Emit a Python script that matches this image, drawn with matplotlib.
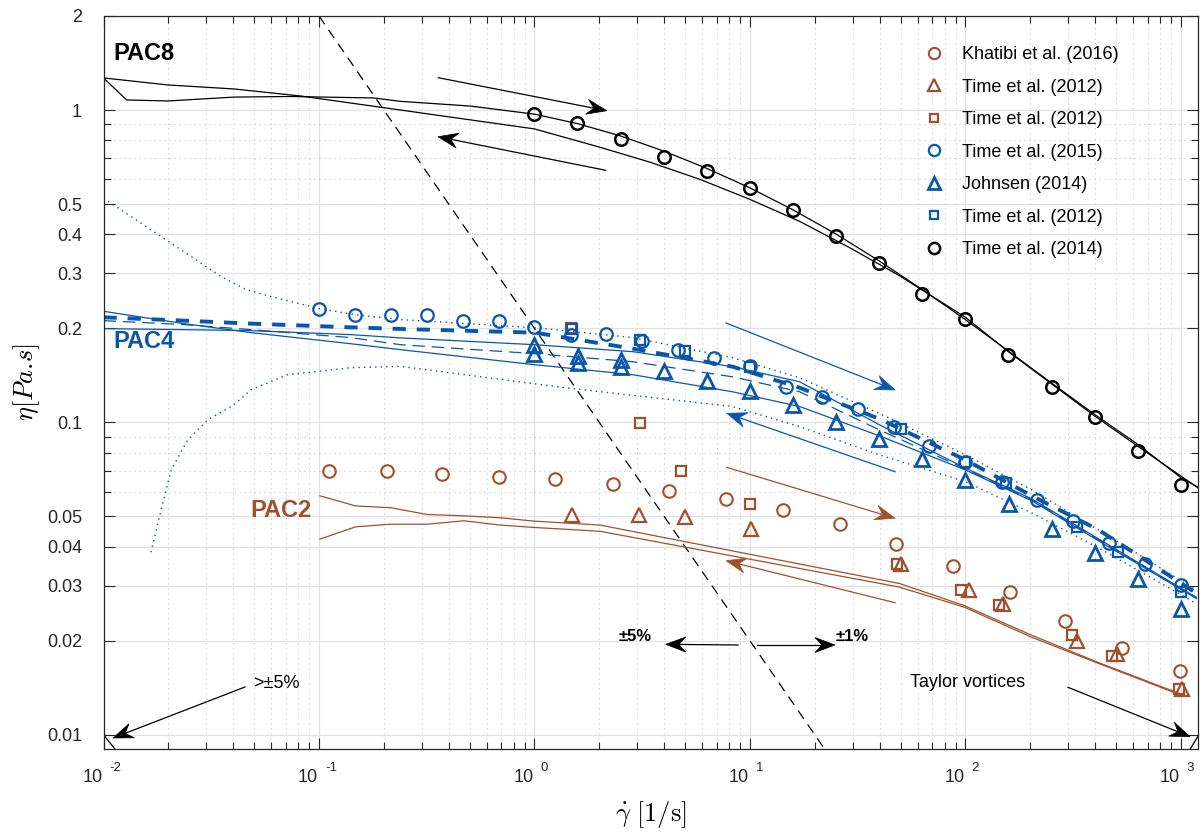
import numpy as np
import matplotlib
matplotlib.use('Agg')
import matplotlib.pyplot as plt
from matplotlib.patches import Polygon
from matplotlib.transforms import IdentityTransform
from matplotlib.ticker import FixedLocator

plt.rcParams['font.family'] = ['Liberation Sans', 'DejaVu Sans']
plt.rcParams['mathtext.fontset'] = 'cm'

BROWN = '#a0502d'
BLUE = '#0a56a8'
INK = '#262626'

# ---- PAC8 (black) ----
pac8_up_x = [0.01, 0.0199, 0.0403, 0.0822, 0.239, 1.0, 2.0, 3.43, 5.85, 9.97, 17, 28.9, 49.3,
             100, 158, 251, 398, 631, 1200]
pac8_up_y = [1.267, 1.203, 1.168, 1.109, 1.0, 0.87, 0.761, 0.681, 0.60, 0.518, 0.44, 0.363,
             0.295, 0.217, 0.1685, 0.1328, 0.1048, 0.0838, 0.0617]
pac8_down_x = [0.01, 0.0128, 0.0199, 0.0403, 0.074, 0.179, 0.239, 0.5, 1.0, 1.58, 2.51, 3.98,
               6.31, 10, 15.8, 25.1, 39.8, 63.1, 100, 158, 251, 398, 631, 1000, 1200]
pac8_down_y = [1.267, 1.077, 1.069, 1.10, 1.105, 1.093, 1.066, 1.03, 0.97, 0.905, 0.826, 0.739,
               0.650, 0.5634, 0.4795, 0.4007, 0.3287, 0.266, 0.2132, 0.1693, 0.1336, 0.106,
               0.085, 0.0665, 0.062]
time14_x = [1, 1.58, 2.51, 3.98, 6.31, 10, 15.8, 25.1, 39.8, 63.1, 100, 158, 251, 398, 631, 1000]
time14_y = [0.969, 0.91, 0.805, 0.708, 0.637, 0.563, 0.478, 0.394, 0.323, 0.2585, 0.214, 0.164,
            0.130, 0.104, 0.0807, 0.0631]

# ---- PAC4 (blue) ----
pac4_x = [0.01, 0.0236, 0.0483, 0.14, 0.239, 1.0, 2.86, 8.3, 17, 39.9, 100, 204, 416, 1180]
pac4_fit_y = [0.217, 0.2117, 0.2071, 0.2015, 0.1991, 0.1938, 0.1722, 0.1508, 0.1291, 0.1026,
              0.0758, 0.0581, 0.0452, 0.0284]
pac4_down_y = [0.1995, 0.1981, 0.1966, 0.191, 0.1864, 0.1773, 0.1684, 0.1508, 0.1349, 0.0982,
               0.0714, 0.0568, 0.0423, 0.0275]
pac4_mid_y = [0.2117, 0.2056, 0.1981, 0.1868, 0.1773, 0.166, 0.1564, 0.1399, 0.1253, 0.0946,
              0.0709, 0.0564, 0.042, 0.0275]
pac4_up_y = [0.2268, 0.2071, 0.1938, 0.1786, 0.1709, 0.153, 0.1421, 0.1253, 0.1124, 0.0905,
             0.0704, 0.056, 0.0417, 0.0273]
pac4_hi_x = [0.01, 0.0351, 0.0458, 0.0598, 0.1, 0.146, 0.239, 1.0, 2.86, 8.3, 17, 41.2, 100,
             204, 591, 1180]
pac4_hi_y = [0.522, 0.2932, 0.2663, 0.2529, 0.2314, 0.2214, 0.2133, 0.201, 0.1868, 0.1611,
             0.1389, 0.1057, 0.0787, 0.0607, 0.039, 0.029]
pac4_lo_x = [0.0166, 0.0185, 0.0206, 0.0246, 0.0305, 0.0403, 0.0483, 0.0716, 0.14, 0.239, 1.41,
             8.3, 17, 39.9, 100, 204, 416, 1180]
pac4_lo_y = [0.0384, 0.0524, 0.0704, 0.0879, 0.1019, 0.1138, 0.1272, 0.1421, 0.1496, 0.1511,
             0.1289, 0.1124, 0.0969, 0.0787, 0.0646, 0.0512, 0.0396, 0.0263]
time15_x = [0.1, 0.147, 0.215, 0.316, 0.464, 0.681, 1, 1.47, 2.15, 3.16, 4.64, 6.81, 10, 14.7,
            21.5, 31.6, 46.4, 68.1, 100, 147, 215, 316, 464, 681, 1000]
time15_y = [0.2309, 0.2214, 0.2214, 0.2214, 0.2107, 0.2107, 0.2015, 0.191, 0.192, 0.1817, 0.171,
            0.1607, 0.1518, 0.1302, 0.121, 0.1105, 0.0965, 0.0842, 0.0745, 0.0643, 0.0564,
            0.0484, 0.0412, 0.0351, 0.0301]
johnsen_x = [1, 1, 1.585, 1.585, 2.512, 2.512, 3.981, 6.31, 10, 15.85, 25.12, 39.81, 63.1, 100,
             158.5, 251.2, 398.1, 631, 1000]
johnsen_y = [0.1773, 0.166, 0.1626, 0.1549, 0.1587, 0.1504, 0.1456, 0.1359, 0.1256, 0.1138,
             0.1006, 0.0883, 0.0762, 0.0654, 0.0547, 0.0457, 0.0382, 0.0314, 0.0253]
time12b_x = [1.5, 3.1, 5, 10, 50, 100, 155, 330, 510, 1000]
time12b_y = [0.199, 0.184, 0.1697, 0.1504, 0.0951, 0.0748, 0.0641, 0.0463, 0.0385, 0.0286]

# ---- PAC2 (brown) ----
pac2_x = [0.101, 0.148, 0.215, 0.318, 0.469, 0.694, 0.989, 2.015, 49.3, 98.8, 203.5, 416, 986]
pac2_up_y = [0.0582, 0.054, 0.0533, 0.0507, 0.0502, 0.0495, 0.0483, 0.0469, 0.0305, 0.0259,
             0.0208, 0.017, 0.01354]
pac2_down_y = [0.0423, 0.0463, 0.0472, 0.0472, 0.0484, 0.0469, 0.0461, 0.0448, 0.0297, 0.0256,
               0.0205, 0.0169, 0.01344]
khatibi_x = [0.111, 0.206, 0.373, 0.687, 1.25, 2.31, 4.2, 7.78, 14.2, 26.2, 47.6, 87.1, 161,
             289, 533, 986]
khatibi_y = [0.070, 0.070, 0.0683, 0.067, 0.0657, 0.0635, 0.0604, 0.0568, 0.0524, 0.0471,
             0.0407, 0.0346, 0.0286, 0.0232, 0.019, 0.016]
time12t_x = [1.5, 3.06, 5.0, 10.1, 50, 104, 149, 331, 506, 1008]
time12t_y = [0.0505, 0.0505, 0.0496, 0.0457, 0.0351, 0.0291, 0.0263, 0.020, 0.0181, 0.014]
time12s_x = [1.47, 3.09, 4.78, 10.05, 47.9, 95.2, 143, 313, 480, 975]
time12s_y = [0.201, 0.0998, 0.0699, 0.0547, 0.0351, 0.029, 0.0261, 0.0209, 0.0179, 0.014]

# measurement limit (constant torque) and small edge segments
limit_x = [0.1, 22.2]
limit_y = [2.0, 0.009]
corner_left_x = [0.01, 0.0113]
corner_left_y = [0.01, 0.009]
corner_right_x = [1105, 1200]
corner_right_y = [0.009, 0.0099]

y_ticks = [0.01, 0.02, 0.03, 0.04, 0.05, 0.1, 0.2, 0.3, 0.4, 0.5, 1, 2]
y_tick_labels = ['0.01', '0.02', '0.03', '0.04', '0.05', '0.1', '0.2', '0.3', '0.4', '0.5', '1', '2']
y_minor = [0.06, 0.07, 0.08, 0.09, 0.6, 0.7, 0.8, 0.9]
x_decades = [-2, -1, 0, 1, 2, 3]


def mat_arrow(ax, tail, head, color, lw=0.9, length=20, half=7.5, notch=13):
    # matlab style arrow (concave head), drawn in pixel space
    p0 = ax.transAxes.transform(tail)
    p1 = ax.transAxes.transform(head)
    d = (p1 - p0) / np.hypot(*(p1 - p0))
    n = np.array([-d[1], d[0]])
    back = p1 - notch * d
    pts = [p1, p1 - length * d + half * n, back, p1 - length * d - half * n]
    ax.add_patch(Polygon(pts, closed=True, fc=color, ec=color, lw=0.5,
                         transform=IdentityTransform(), clip_on=False, zorder=5))
    shaft = ax.transAxes.inverted().transform(np.array([p0, back]))
    ax.plot(shaft[:, 0], shaft[:, 1], color=color, lw=lw, transform=ax.transAxes,
            clip_on=False, zorder=5)


fig = plt.figure(figsize=(12.03, 8.32), dpi=100)
ax = fig.add_axes([103.5 / 1203, 83 / 832, 1094.5 / 1203, 733 / 832])
ax.set_xscale('log')
ax.set_yscale('log')
ax.set_xlim(0.01, 1200)
ax.set_ylim(0.009, 2)

# lines
ax.plot(limit_x, limit_y, color='k', lw=0.9, dashes=(8, 5.5))
ax.plot(corner_left_x, corner_left_y, color='k', lw=0.9)
ax.plot(corner_right_x, corner_right_y, color='k', lw=0.9)

ax.plot(pac8_up_x, pac8_up_y, color='k', lw=0.9)
ax.plot(pac8_down_x, pac8_down_y, color='k', lw=0.9)

ax.plot(pac4_x, pac4_up_y, color=BLUE, lw=0.9)
ax.plot(pac4_x, pac4_down_y, color=BLUE, lw=0.9)
ax.plot(pac4_x, pac4_mid_y, color=BLUE, lw=0.9, dashes=(10, 5.5))
ax.plot(pac4_x, pac4_fit_y, color=BLUE, lw=2.8, dashes=(3.4, 2.8))
ax.plot(pac4_hi_x, pac4_hi_y, color=BLUE, lw=1.0, dashes=(1, 3))
ax.plot(pac4_lo_x, pac4_lo_y, color=BLUE, lw=1.0, dashes=(1, 3))

ax.plot(pac2_x, pac2_up_y, color=BROWN, lw=0.9)
ax.plot(pac2_x, pac2_down_y, color=BROWN, lw=0.9)

# markers
mk = dict(ls='none', mfc='none', zorder=4)
h1, = ax.plot(khatibi_x, khatibi_y, marker='o', ms=9, mew=1.5, mec=BROWN,
              label='Khatibi et al. (2016)', **mk)
h2, = ax.plot(time12t_x, time12t_y, marker='^', ms=10, mew=1.6, mec=BROWN,
              label='Time et al. (2012)', **mk)
h3, = ax.plot(time12s_x, time12s_y, marker='s', ms=7, mew=1.6, mec=BROWN,
              label='Time et al. (2012)', **mk)
h4, = ax.plot(time15_x, time15_y, marker='o', ms=9, mew=1.6, mec=BLUE,
              label='Time et al. (2015)', **mk)
h5, = ax.plot(johnsen_x, johnsen_y, marker='^', ms=10, mew=2.0, mec=BLUE,
              label='Johnsen (2014)', **mk)
h6, = ax.plot(time12b_x, time12b_y, marker='s', ms=7, mew=1.6, mec=BLUE,
              label='Time et al. (2012)', **mk)
h7, = ax.plot(time14_x, time14_y, marker='o', ms=9, mew=1.8, mec='k',
              label='Time et al. (2014)', **mk)

ax.legend(handles=[h1, h2, h3, h4, h5, h6, h7], loc='upper left',
          bbox_to_anchor=(0.7506, 0.959), frameon=False, borderpad=0, borderaxespad=0,
          handlelength=1.0, handletextpad=1.05, labelspacing=0.86, fontsize=13,
          markerscale=0.9)

# axes styling
ax.yaxis.set_major_locator(FixedLocator(y_ticks))
ax.yaxis.set_minor_locator(FixedLocator(y_minor))
ax.set_yticklabels(y_tick_labels)
ax.yaxis.set_minor_formatter(plt.NullFormatter())
x_major = [10.0 ** e for e in x_decades]
x_minor = [m * 10.0 ** e for e in x_decades for m in range(2, 10) if m * 10.0 ** e < 1200]
ax.xaxis.set_major_locator(FixedLocator(x_major))
ax.xaxis.set_minor_locator(FixedLocator(x_minor))
ax.set_xticklabels([''] * len(x_major))
ax.xaxis.set_minor_formatter(plt.NullFormatter())

ax.tick_params(which='both', direction='in', top=True, right=True, colors=INK, width=0.8)
ax.tick_params(which='major', length=8)
ax.tick_params(which='minor', length=5)
ax.tick_params(axis='y', which='major', labelsize=13, pad=15.5, labelcolor=INK)
for sp in ax.spines.values():
    sp.set_color(INK)
    sp.set_linewidth(0.9)

ax.set_axisbelow(True)
ax.grid(which='major', color='#e2e2e2', lw=0.9, ls='-')
ax.grid(which='minor', color='#c4c4c4', lw=0.8, ls=(0, (1, 3.5)))

for e, v in zip(x_decades, x_major):
    ax.annotate('10', xy=(v, 0), xycoords=('data', 'axes fraction'), xytext=(-0.7, -20.3),
                textcoords='offset points', ha='right', va='center', fontsize=13, color=INK)
    ax.annotate(str(e), xy=(v, 0), xycoords=('data', 'axes fraction'), xytext=(4.3, -13.4),
                textcoords='offset points', ha='left', va='center', fontsize=9.5, color=INK)

ax.set_xlabel(r'$\dot{\gamma}\ [1/\mathrm{s}]$', fontsize=19, va='center')
ax.xaxis.set_label_coords(0.5, -0.09)
ax.set_ylabel(r'$\eta [Pa.\!s]$', fontsize=19, va='center')
ax.yaxis.set_label_coords(-0.0699, 0.5)

# labels
ax.text(0.0087, 0.9495, 'PAC8', transform=ax.transAxes, fontsize=17, fontweight='bold',
        color='k', va='center', ha='left')
ax.text(0.0087, 0.5566, 'PAC4', transform=ax.transAxes, fontsize=17, fontweight='bold',
        color=BLUE, va='center', ha='left')
ax.text(0.1338, 0.326, 'PAC2', transform=ax.transAxes, fontsize=17, fontweight='bold',
        color=BROWN, va='center', ha='left')
ax.text(0.5011, 0.1528, '±5%', transform=ax.transAxes, fontsize=12, fontweight='bold',
        va='center', ha='right')
ax.text(0.6692, 0.1528, '±1%', transform=ax.transAxes, fontsize=12, fontweight='bold',
        va='center', ha='left')
ax.text(0.1366, 0.09, '>±5%', transform=ax.transAxes, fontsize=13, va='center', ha='left')
ax.text(0.7369, 0.0914, 'Taylor vortices', transform=ax.transAxes, fontsize=13,
        va='center', ha='left')

# arrows (axes fraction: tail -> head)
mat_arrow(ax, (0.3059, 0.9158), (0.4598, 0.8708), 'k')
mat_arrow(ax, (0.4588, 0.7895), (0.3056, 0.8353), 'k')
mat_arrow(ax, (0.5688, 0.5812), (0.7232, 0.4898), BLUE)
mat_arrow(ax, (0.7232, 0.3783), (0.5694, 0.458), BLUE)
mat_arrow(ax, (0.5694, 0.3843), (0.7232, 0.3147), BROWN)
mat_arrow(ax, (0.7232, 0.1996), (0.5688, 0.2569), BROWN)
mat_arrow(ax, (0.5797, 0.1419), (0.5137, 0.1428), 'k')
mat_arrow(ax, (0.5971, 0.1419), (0.6683, 0.1419), 'k')
mat_arrow(ax, (0.1293, 0.0846), (0.0087, 0.015), 'k')
mat_arrow(ax, (0.8812, 0.0842), (0.9927, 0.0168), 'k')

fig.savefig('out.png', dpi=100)
